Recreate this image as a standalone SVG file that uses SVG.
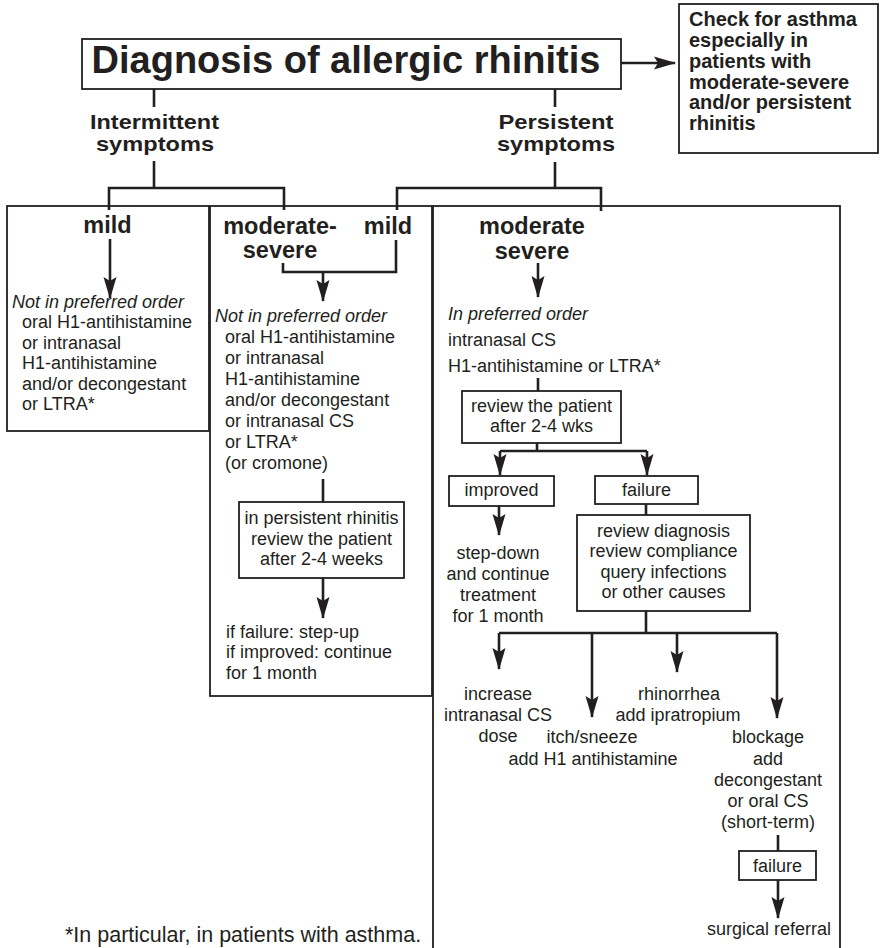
<svg xmlns="http://www.w3.org/2000/svg" width="881" height="948" viewBox="0 0 881 948">
<style>
.box{fill:none;stroke:#231f20;stroke-width:1.8}
.ln{fill:none;stroke:#231f20;stroke-width:2.6}
.arr{marker-end:url(#ah)}
text{font-family:"Liberation Sans",Arial,Helvetica,sans-serif;fill:#231f20}
.r{font-size:18px}
.b{font-size:23.5px;font-weight:bold}
.bl{font-size:20.5px;font-weight:bold}
.cb{font-size:20px;font-weight:bold}
.i{font-style:italic}
.m{text-anchor:middle}
</style>
<defs>
<marker id="ah" markerUnits="userSpaceOnUse" markerWidth="22" markerHeight="14" viewBox="0 0 22 14" refX="21" refY="7" orient="auto">
<path d="M0,0.5 L22,7 L0,13.5 L4,7 z" fill="#231f20"/>
</marker>
</defs>
<rect width="881" height="948" fill="#ffffff"/>
<g id="connectors">
<line class="ln arr" x1="621" y1="63" x2="675" y2="63"/>
<line class="ln" x1="154" y1="89" x2="154" y2="107"/>
<line class="ln" x1="154" y1="161" x2="154" y2="188"/>
<polyline class="ln" points="109,210 109,188 284,188 284,210"/>
<line class="ln" x1="555" y1="89" x2="555" y2="107"/>
<line class="ln" x1="555" y1="162" x2="555" y2="188"/>
<polyline class="ln" points="397,210 397,188 601,188 601,211"/>
<line class="ln arr" x1="110" y1="239" x2="110" y2="298"/>
<polyline class="ln" points="283,263 283,272 396,272 396,240"/>
<line class="ln arr" x1="323" y1="272" x2="323" y2="301"/>
<line class="ln" x1="323" y1="479" x2="323" y2="502"/>
<line class="ln arr" x1="323" y1="578" x2="323" y2="618"/>
<line class="ln arr" x1="538" y1="263" x2="538" y2="297"/>
<line class="ln" x1="538" y1="378" x2="538" y2="391"/>
<line class="ln" x1="537" y1="443" x2="537" y2="451"/>
<line class="ln" x1="500" y1="451" x2="647" y2="451"/>
<line class="ln arr" x1="500" y1="451" x2="500" y2="475"/>
<line class="ln arr" x1="647" y1="451" x2="647" y2="475"/>
<line class="ln arr" x1="499" y1="506" x2="499" y2="535"/>
<line class="ln" x1="646" y1="504" x2="646" y2="515"/>
<line class="ln" x1="646" y1="611" x2="646" y2="633"/>
<line class="ln" x1="499" y1="633" x2="777" y2="633"/>
<line class="ln arr" x1="499" y1="633" x2="499" y2="669"/>
<line class="ln arr" x1="592" y1="633" x2="592" y2="717"/>
<line class="ln arr" x1="677" y1="633" x2="677" y2="672"/>
<line class="ln arr" x1="777" y1="633" x2="777" y2="718"/>
<line class="ln" x1="778" y1="835" x2="778" y2="851"/>
<line class="ln arr" x1="778" y1="880" x2="778" y2="918"/>
</g>
<g id="title">
<rect class="box" x="82" y="39" width="539" height="50"/>
<text class="m" x="346" y="73" style="font-size:38px;font-weight:bold">Diagnosis of allergic rhinitis</text>
</g>
<g id="asthma-check">
<rect class="box" x="679" y="4" width="199" height="149"/>
<text class="cb" x="689" y="26">Check for asthma</text>
<text class="cb" x="689" y="47">especially in</text>
<text class="cb" x="689" y="68">patients with</text>
<text class="cb" x="689" y="89">moderate-severe</text>
<text class="cb" x="689" y="109">and/or persistent</text>
<text class="cb" x="689" y="130">rhinitis</text>
</g>
<g id="intermittent">
<text class="bl m" x="154.5" y="129" textLength="129" lengthAdjust="spacingAndGlyphs">Intermittent</text>
<text class="bl m" x="155" y="151" textLength="118" lengthAdjust="spacingAndGlyphs">symptoms</text>
</g>
<g id="persistent">
<text class="bl m" x="556" y="129" textLength="115" lengthAdjust="spacingAndGlyphs">Persistent</text>
<text class="bl m" x="556" y="151" textLength="118" lengthAdjust="spacingAndGlyphs">symptoms</text>
</g>
<g id="intermittent-mild">
<rect class="box" x="7" y="206" width="202" height="225"/>
<text class="b m" x="107.5" y="233">mild</text>
<text class="r i" x="12" y="308">Not in preferred order</text>
<text class="r" x="22" y="328">oral H1-antihistamine</text>
<text class="r" x="22" y="349">or intranasal</text>
<text class="r" x="22" y="369">H1-antihistamine</text>
<text class="r" x="22" y="390">and/or decongestant</text>
<text class="r" x="22" y="410">or LTRA*</text>
</g>
<g id="intermittent-modsev-persistent-mild">
<rect class="box" x="210" y="206" width="222" height="490"/>
<text class="b m" x="280" y="234">moderate-</text>
<text class="b m" x="280" y="258">severe</text>
<text class="b m" x="388" y="234">mild</text>
<text class="r i" x="215" y="322">Not in preferred order</text>
<text class="r" x="225" y="343">oral H1-antihistamine</text>
<text class="r" x="225" y="364">or intranasal</text>
<text class="r" x="225" y="385">H1-antihistamine</text>
<text class="r" x="225" y="406">and/or decongestant</text>
<text class="r" x="225" y="427">or intranasal CS</text>
<text class="r" x="225" y="448">or LTRA*</text>
<text class="r" x="225" y="469">(or cromone)</text>
<text class="r" x="226" y="638">if failure: step-up</text>
<text class="r" x="226" y="658">if improved: continue</text>
<text class="r" x="226" y="679">for 1 month</text>
</g>
<g id="review-weeks">
<rect class="box" x="239" y="502" width="165" height="76"/>
<text class="r m" x="321.5" y="524">in persistent rhinitis</text>
<text class="r m" x="321.5" y="545">review the patient</text>
<text class="r m" x="321.5" y="565">after 2-4 weeks</text>
</g>
<g id="persistent-modsev">
<rect class="box" x="433" y="206" width="407" height="760"/>
<text class="b m" x="532" y="234">moderate</text>
<text class="b m" x="532" y="259">severe</text>
<text class="r i" x="448" y="320">In preferred order</text>
<text class="r" x="448" y="346">intranasal CS</text>
<text class="r" x="448" y="372">H1-antihistamine or LTRA*</text>
</g>
<g id="review-wks">
<rect class="box" x="462" y="391" width="159" height="52"/>
<text class="r m" x="541.5" y="412">review the patient</text>
<text class="r m" x="541.5" y="432">after 2-4 wks</text>
</g>
<g id="improved">
<rect class="box" x="449" y="476" width="105" height="30"/>
<text class="r m" x="501.5" y="496">improved</text>
</g>
<g id="failure">
<rect class="box" x="595" y="476" width="103" height="28"/>
<text class="r m" x="646.5" y="496">failure</text>
</g>
<g id="step-down">
<text class="r m" x="498" y="559">step-down</text>
<text class="r m" x="498" y="580">and continue</text>
<text class="r m" x="498" y="601">treatment</text>
<text class="r m" x="498" y="622">for 1 month</text>
</g>
<g id="review-diagnosis">
<rect class="box" x="577" y="515" width="173" height="96"/>
<text class="r m" x="663.5" y="537">review diagnosis</text>
<text class="r m" x="663.5" y="557">review compliance</text>
<text class="r m" x="663.5" y="578">query infections</text>
<text class="r m" x="663.5" y="598">or other causes</text>
</g>
<g id="increase-cs">
<text class="r m" x="498" y="700">increase</text>
<text class="r m" x="498" y="721">intranasal CS</text>
<text class="r m" x="498" y="742">dose</text>
</g>
<g id="itch-sneeze">
<text class="r m" x="592" y="743">itch/sneeze</text>
<text class="r m" x="593" y="765">add H1 antihistamine</text>
</g>
<g id="rhinorrhea">
<text class="r m" x="679" y="700">rhinorrhea</text>
<text class="r m" x="678" y="721">add ipratropium</text>
</g>
<g id="blockage">
<text class="r m" x="768" y="743">blockage</text>
<text class="r m" x="768" y="765">add</text>
<text class="r m" x="768" y="786">decongestant</text>
<text class="r m" x="768" y="807">or oral CS</text>
<text class="r m" x="768" y="828">(short-term)</text>
</g>
<g id="failure-2">
<rect class="box" x="739" y="851" width="77" height="29"/>
<text class="r m" x="777.5" y="872">failure</text>
</g>
<g id="surgical-referral">
<text class="r m" x="769" y="935">surgical referral</text>
</g>
<g id="footnote">
<text x="65" y="942" style="font-size:21.5px">*In particular, in patients with asthma.</text>
</g>
</svg>
